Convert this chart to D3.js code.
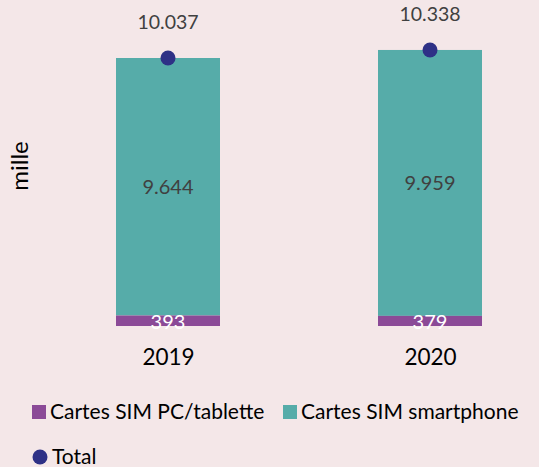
<!DOCTYPE html>
<html>
<head>
<meta charset="utf-8">
<script src="https://cdn.jsdelivr.net/npm/d3@7"></script>
<style>
  body { margin: 0; background: #f4e7e8; }
  svg { display: block; font-family: Lato, "Open Sans", sans-serif; }
</style>
</head>
<body>
<svg id="canvas" width="539" height="467"></svg>
<script>
let years = ["2019", "2020"];
let pcTablette = [393, 379];
let smartphone = [9644, 9959];
let totals = [10037, 10338];
let seriesNames = ["Cartes SIM PC/tablette", "Cartes SIM smartphone"];
let colors = ["#8b4a97", "#56aca9"];
let totalColor = "#2e3186";

let canvas = d3.select("#canvas");

let baseline = 326;
let barWidth = 104;

let x = d3.scalePoint()
    .domain(years)
    .range([168, 430]);

let y = d3.scaleLinear()
    .domain([0, 10037])
    .range([baseline, 58]);

let rows = years.map((yr, i) => ({ year: yr, pc: pcTablette[i], sm: smartphone[i], total: totals[i] }));
let fmt = (v) => d3.format(",")(v).replace(/,/g, ".");

// stacked bars
let bars = canvas.selectAll(".bar")
    .data(rows)
    .enter()
    .append("g")
    .attr("class", "bar");

bars.append("rect")
    .attr("x", (d) => x(d.year) - barWidth / 2)
    .attr("y", (d) => y(d.pc + d.sm))
    .attr("width", barWidth)
    .attr("height", (d) => y(d.pc) - y(d.pc + d.sm))
    .attr("fill", colors[1]);

bars.append("rect")
    .attr("x", (d) => x(d.year) - barWidth / 2)
    .attr("y", (d) => y(d.pc))
    .attr("width", barWidth)
    .attr("height", (d) => y(0) - y(d.pc))
    .attr("fill", colors[0]);

// segment labels
bars.append("text")
    .attr("x", (d) => x(d.year))
    .attr("y", (d) => (y(d.pc) + y(d.pc + d.sm)) / 2)
    .attr("dy", "0.35em")
    .attr("text-anchor", "middle")
    .attr("font-size", 20)
    .attr("fill", "#404040")
    .text((d) => fmt(d.sm));

bars.append("text")
    .attr("x", (d) => x(d.year))
    .attr("y", (d) => (y(0) + y(d.pc)) / 2 + 1)
    .attr("dy", "0.35em")
    .attr("text-anchor", "middle")
    .attr("font-size", 20)
    .attr("fill", "#ffffff")
    .text((d) => fmt(d.pc));

// totals
bars.append("circle")
    .attr("cx", (d) => x(d.year))
    .attr("cy", (d) => y(d.total))
    .attr("r", 7.5)
    .attr("fill", totalColor);

bars.append("text")
    .attr("x", (d) => x(d.year))
    .attr("y", (d) => y(d.total) - 36)
    .attr("dy", "0.35em")
    .attr("text-anchor", "middle")
    .attr("font-size", 19.5)
    .attr("fill", "#404040")
    .text((d) => fmt(d.total));

// x axis labels
let xAxis = d3.axisBottom(x).tickSize(0).tickPadding(0);
let axisG = canvas.append("g")
    .attr("transform", "translate(0," + (baseline + 23) + ")")
    .call(xAxis);
axisG.select(".domain").remove();
axisG.selectAll("text")
    .attr("font-size", 22.5)
    .attr("font-family", "Lato, sans-serif")
    .attr("fill", "#000")
    .attr("dy", "0.35em")
    .attr("y", 8);

// y label
canvas.append("text")
    .attr("transform", "translate(20,166) rotate(-90)")
    .attr("text-anchor", "middle")
    .attr("dy", "0.35em")
    .attr("font-size", 24)
    .attr("fill", "#000")
    .text("mille");

// legend
let legendItems = [
    { name: seriesNames[0], color: colors[0], x: 32, y: 412, shape: "rect" },
    { name: seriesNames[1], color: colors[1], x: 283, y: 412, shape: "rect" },
    { name: "Total", color: totalColor, x: 32, y: 457, shape: "circle" }
];

let legend = canvas.selectAll(".legend")
    .data(legendItems)
    .enter()
    .append("g")
    .attr("class", "legend")
    .attr("transform", (d) => "translate(" + d.x + "," + d.y + ")");

legend.filter((d) => d.shape === "rect")
    .append("rect")
    .attr("x", 0)
    .attr("y", -7)
    .attr("width", 14)
    .attr("height", 14)
    .attr("fill", (d) => d.color);

legend.filter((d) => d.shape === "circle")
    .append("circle")
    .attr("cx", 8)
    .attr("cy", 0)
    .attr("r", 7.5)
    .attr("fill", (d) => d.color);

legend.append("text")
    .attr("x", (d) => d.shape === "rect" ? 18 : 20)
    .attr("dy", "0.35em")
    .attr("font-size", 21)
    .attr("fill", "#000")
    .text((d) => d.name);
</script>
</body>
</html>
